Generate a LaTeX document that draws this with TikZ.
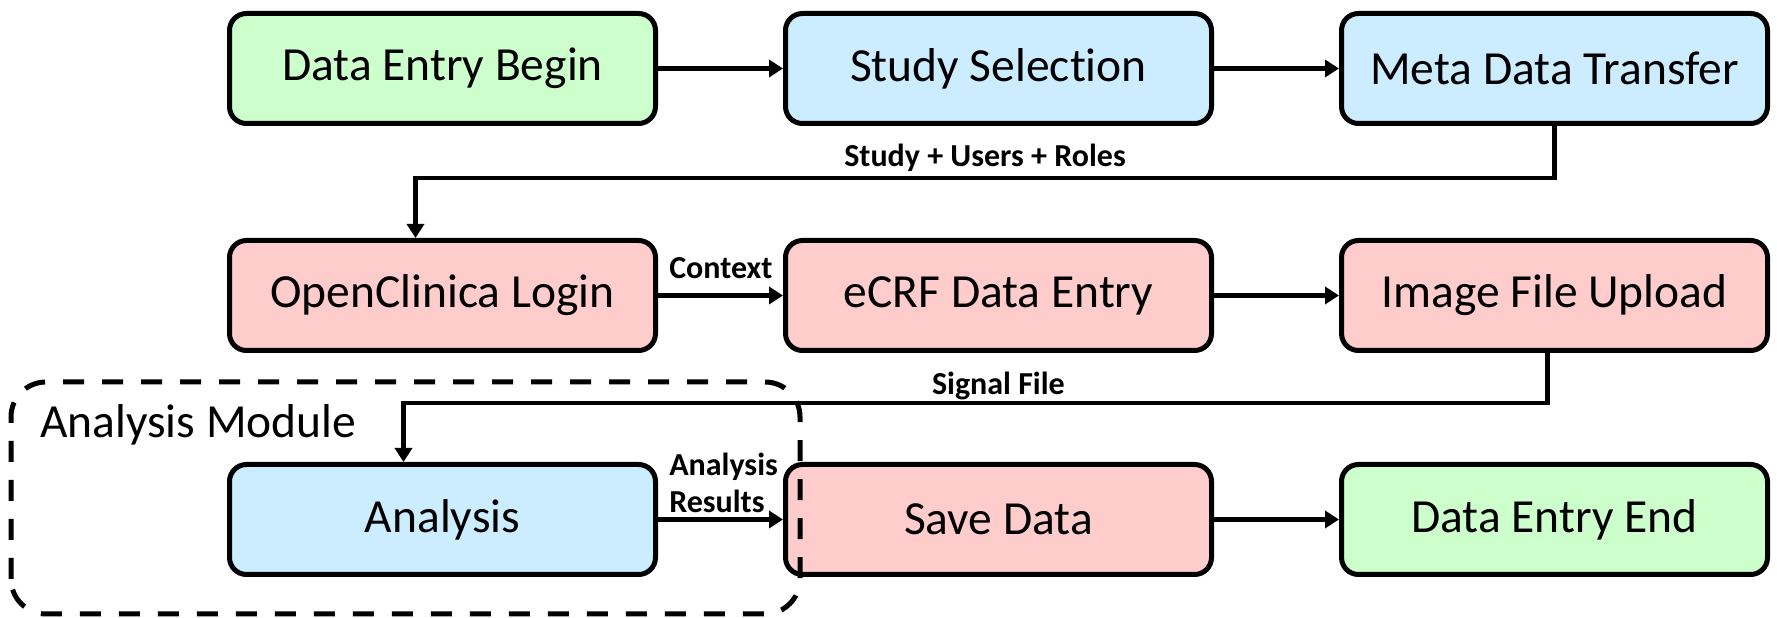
\documentclass[tikz,border=0pt]{standalone}
\usepackage{fontspec}
\setmainfont{Carlito}[RawFeature=-liga,RawFeature=-calt]
\usepackage{tikz}
\usetikzlibrary{arrows.meta,positioning}
\definecolor{endgreen}{HTML}{CCFFCC}
\definecolor{toolblue}{HTML}{CCECFF}
\definecolor{crfpink}{HTML}{FFCCCC}
\newcommand{\bigtxt}{\fontsize{47.5}{57}\selectfont}

\begin{document}
\begin{tikzpicture}[x=1pt,y=1pt,node distance=112pt and 125pt,
    stage/.style={draw,line width=5pt,rounded corners=17pt,minimum width=426pt,minimum height=110pt,inner sep=0pt,font=\bigtxt},
    term/.style={stage,fill=endgreen},
    tool/.style={stage,fill=toolblue},
    crf/.style={stage,fill=crfpink},
    flow/.style={line width=4.5pt,-{Triangle[length=14pt,width=17pt]}},
    tag/.style={inner sep=0pt,font=\bfseries\fontsize{32}{37}\selectfont},
    module/.style={line width=5pt,rounded corners=35pt,dash pattern=on 21pt off 18pt}]
    \useasboundingbox (0,0) rectangle (1777,618);
    \node[term] (begin) at (442.5,549.5) {Data Entry Begin};
    \node[tool,right=of begin] (select) {Study Selection};
    \node[tool,right=of select] (meta) {Meta Data Transfer};
    \node[crf,below=of begin] (login) {OpenClinica Login};
    \node[crf,right=of login] (ecrf) {eCRF Data Entry};
    \node[crf,right=of ecrf] (upload) {Image File Upload};
    \node[tool,below=109pt of login] (analysis) {Analysis};
    \node[crf,right=of analysis] (save) {Save Data};
    \node[term,right=of save] (finish) {Data Entry End};
    \draw[flow] (begin) -- (select);
    \draw[flow] (select) -- (meta);
    \draw[flow] (meta.south) -- ++(0,-52) -| ([xshift=-27pt]login.north)
      node[tag,pos=0.25,above=4pt] {Study + Users + Roles};
    \draw[flow] (login) -- (ecrf) node[tag,pos=0,anchor=south west,xshift=9pt,yshift=15pt] {Context};
    \draw[flow] (ecrf) -- (upload);
    \draw[flow] ([xshift=-7pt]upload.south) -- ++(0,-50) -| ([xshift=-39pt]analysis.north)
      node[tag,pos=0.24,above=1pt] {Signal File};
    \draw[flow] (analysis) -- (save)
      node[tag,align=left,pos=0,anchor=south west,xshift=9pt,yshift=5pt] {Analysis\\Results};
    \draw[flow] (save) -- (finish);
    \draw[module] (11,4) rectangle (800,236);
    \node[inner sep=0pt,font=\bigtxt,anchor=base west] (modname) at (40,180) {Analysis Module};
\end{tikzpicture}
\end{document}
